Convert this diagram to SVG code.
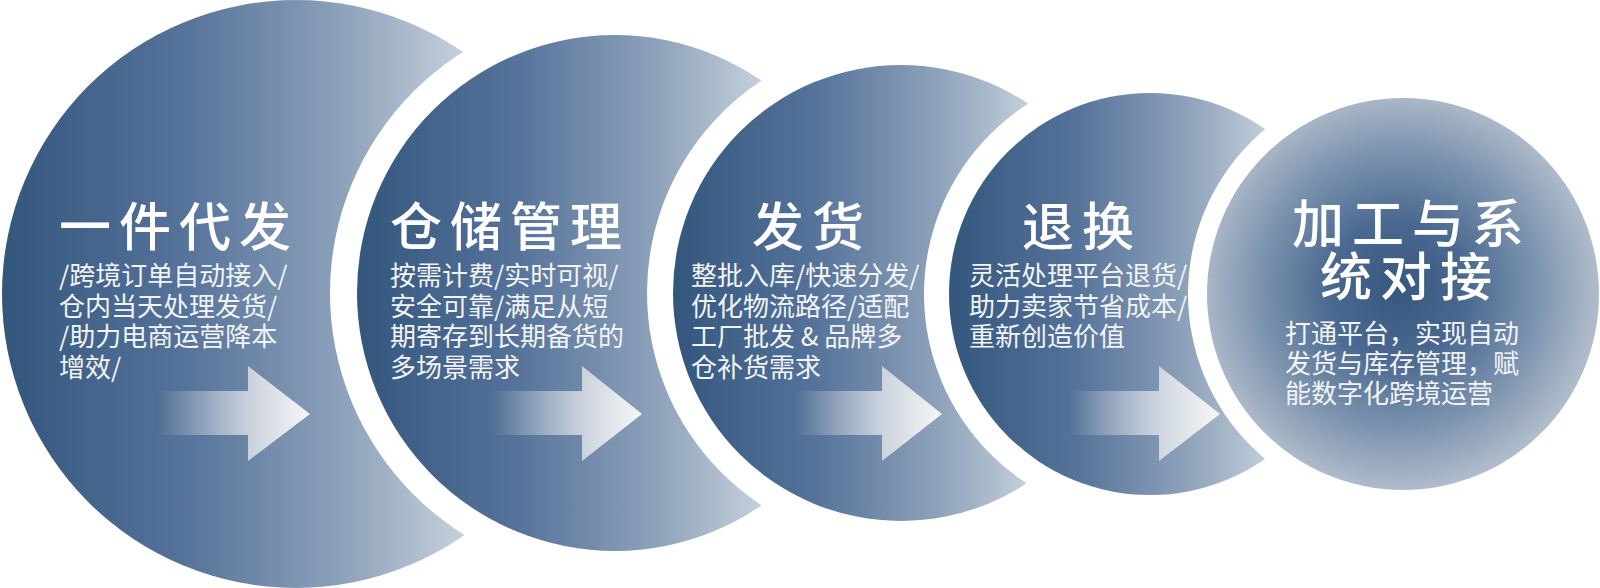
<svg xmlns="http://www.w3.org/2000/svg" width="1600" height="588" viewBox="0 0 1600 588">
<style>
.gap{fill:#ffffff}
.lbl{font-family:"Noto Sans CJK SC","Microsoft YaHei",sans-serif}
.title{font-size:52px;font-weight:500;fill:#ffffff;letter-spacing:8px}
.sub{font-size:26px;font-weight:400;fill:#f2f4f6;letter-spacing:0}
.arrow{fill:url(#gArrow)}
</style>
<defs>
<linearGradient id="g1" gradientUnits="userSpaceOnUse" x1="2" y1="0" x2="462" y2="0">
<stop offset="0" stop-color="#33567d"/><stop offset="0.4" stop-color="#56739a"/><stop offset="0.75" stop-color="#8fa3bb"/><stop offset="1" stop-color="#c4cfda"/>
</linearGradient>
<linearGradient id="g2" gradientUnits="userSpaceOnUse" x1="357" y1="0" x2="760" y2="0">
<stop offset="0" stop-color="#33567d"/><stop offset="0.4" stop-color="#56739a"/><stop offset="0.75" stop-color="#8fa3bb"/><stop offset="1" stop-color="#c4cfda"/>
</linearGradient>
<linearGradient id="g3" gradientUnits="userSpaceOnUse" x1="673" y1="0" x2="1030" y2="0">
<stop offset="0" stop-color="#33567d"/><stop offset="0.4" stop-color="#56739a"/><stop offset="0.75" stop-color="#8fa3bb"/><stop offset="1" stop-color="#c4cfda"/>
</linearGradient>
<linearGradient id="g4" gradientUnits="userSpaceOnUse" x1="949" y1="0" x2="1270" y2="0">
<stop offset="0" stop-color="#33567d"/><stop offset="0.4" stop-color="#56739a"/><stop offset="0.75" stop-color="#8fa3bb"/><stop offset="1" stop-color="#c4cfda"/>
</linearGradient>
<radialGradient id="g5" gradientUnits="userSpaceOnUse" cx="1398" cy="290" r="200">
<stop offset="0" stop-color="#36577e"/><stop offset="0.35" stop-color="#4b6990"/><stop offset="0.7" stop-color="#7d94af"/><stop offset="1" stop-color="#b0bccb"/>
</radialGradient>
<linearGradient id="gArrow" x1="0" y1="0" x2="1" y2="0">
<stop offset="0" stop-color="#f4f4f4" stop-opacity="0"/><stop offset="0.6" stop-color="#f0f1f3" stop-opacity="0.7"/><stop offset="1" stop-color="#f6f6f6" stop-opacity="1"/>
</linearGradient>
</defs>
<rect width="1600" height="588" fill="#ffffff"/>
<g id="node1">
<circle cx="296" cy="294" r="294" fill="url(#g1)"/>
<text class="lbl"><tspan class="title" x="59" y="246">一件代发</tspan><tspan class="sub" x="59" y="285">/跨境订单自动接入/</tspan><tspan class="sub" x="59" y="315.5">仓内当天处理发货/</tspan><tspan class="sub" x="59" y="346">/助力电商运营降本</tspan><tspan class="sub" x="59" y="376.5">增效/</tspan></text>
</g>
<g id="node2">
<circle class="gap" cx="615" cy="293" r="285"/>
<circle cx="615" cy="293" r="258" fill="url(#g2)"/>
<text class="lbl"><tspan class="title" x="390" y="246">仓储管理</tspan><tspan class="sub" x="390" y="285">按需计费/实时可视/</tspan><tspan class="sub" x="390" y="315.5">安全可靠/满足从短</tspan><tspan class="sub" x="390" y="346">期寄存到长期备货的</tspan><tspan class="sub" x="390" y="376.5">多场景需求</tspan></text>
</g>
<g id="node3">
<circle class="gap" cx="901" cy="293" r="254"/>
<circle cx="901" cy="293" r="228" fill="url(#g3)"/>
<text class="lbl"><tspan class="title" x="752" y="246">发货</tspan><tspan class="sub" x="691" y="285">整批入库/快速分发/</tspan><tspan class="sub" x="691" y="315.5">优化物流路径/适配</tspan><tspan class="sub" x="691" y="346">工厂批发 &amp; 品牌多</tspan><tspan class="sub" x="691" y="376.5">仓补货需求</tspan></text>
</g>
<g id="node4">
<circle class="gap" cx="1150" cy="294" r="226"/>
<circle cx="1150" cy="294" r="201" fill="url(#g4)"/>
<text class="lbl"><tspan class="title" x="1022" y="246">退换</tspan><tspan class="sub" x="969" y="285">灵活处理平台退货/</tspan><tspan class="sub" x="969" y="315.5">助力卖家节省成本/</tspan><tspan class="sub" x="969" y="346">重新创造价值</tspan></text>
</g>
<g id="node5">
<circle class="gap" cx="1403" cy="294" r="215"/>
<circle cx="1403" cy="294" r="196" fill="url(#g5)"/>
<text class="lbl"><tspan class="title" x="1292" y="243">加工与系</tspan><tspan class="title" x="1320" y="296">统对接</tspan><tspan class="sub" x="1285" y="343">打通平台，实现自动</tspan><tspan class="sub" x="1285" y="373">发货与库存管理，赋</tspan><tspan class="sub" x="1285" y="403">能数字化跨境运营</tspan></text>
</g>
<g id="connectors">
<polygon class="arrow" points="158,391 248,391 248,366 310,414 248,461 248,435 158,435"/>
<polygon class="arrow" points="492,391 582,391 582,366 642,414 582,461 582,435 492,435"/>
<polygon class="arrow" points="795,391 882,391 882,366 942,414 882,461 882,435 795,435"/>
<polygon class="arrow" points="1069,391 1159,391 1159,366 1220,414 1159,461 1159,435 1069,435"/>
</g>
</svg>
